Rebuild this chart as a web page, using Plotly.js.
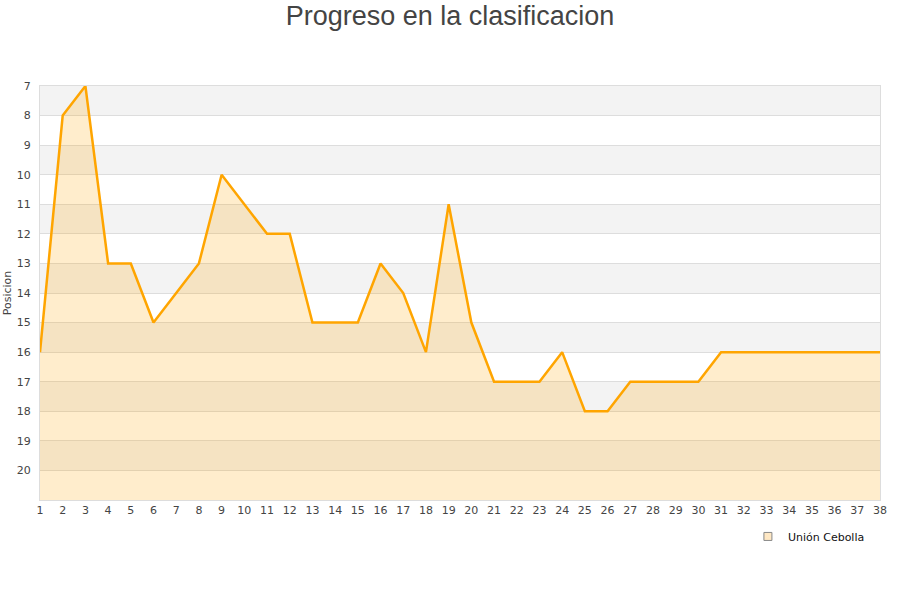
<!DOCTYPE html>
<html><head><meta charset="utf-8">
<script src="https://cdn.plot.ly/plotly-3.0.1.min.js"></script>
<style>html,body{margin:0;padding:0;background:#fff}</style>
</head><body><div id="chart" style="width:900px;height:600px"></div>
<script>
const jornadas = [1,2,3,4,5,6,7,8,9,10,11,12,13,14,15,16,17,18,19,20,21,22,23,24,25,26,27,28,29,30,31,32,33,34,35,36,37,38];
const posicion = [16,8,7,13,13,15,14,13,10,11,12,12,15,15,15,13,14,16,11,15,17,17,17,16,18,18,17,17,17,17,16,16,16,16,16,16,16,16];
const baseline = jornadas.map(() => 21);
const teamName = 'Unión Cebolla';
const yTicks = [7,8,9,10,11,12,13,14,15,16,17,18,19,20];
const greyBands = [[7,8],[9,10],[11,12],[13,14],[15,16],[17,18],[19,20]];

const shapes = greyBands.map(b => ({
  type:'rect', xref:'paper', yref:'y', x0:0, x1:1, y0:b[0], y1:b[1],
  fillcolor:'#f3f3f3', line:{width:0}, layer:'below'
}));

const traces = [
  {x: jornadas, y: baseline, mode:'lines', line:{width:0}, showlegend:false, hoverinfo:'skip'},
  {x: jornadas, y: posicion, mode:'lines', name: teamName, fill:'tonexty', showlegend:false,
   fillcolor:'rgba(255,165,0,0.2)', line:{color:'#ffa500', width:2.5}},
  {x:[null], y:[null], mode:'markers', name: teamName, showlegend:true,
   marker:{symbol:'square', size:8, color:'#ffe8c4', line:{color:'#888888', width:1}}}
];

const layout = {
  width:900, height:600,
  paper_bgcolor:'#fff', plot_bgcolor:'rgba(0,0,0,0)',
  margin:{l:40, r:20, t:86, b:100},
  title:{text:'Progreso en la clasificacion', x:0.5, xanchor:'center', y:0.99, yanchor:'top',
         font:{family:'Liberation Sans, Arial, sans-serif', size:27, color:'#444'}},
  font:{family:'DejaVu Sans, sans-serif', size:11, color:'#444'},
  xaxis:{range:[1,38], tickvals:jornadas, ticktext:jornadas.map(String), showgrid:false, zeroline:false,
         showline:true, linecolor:'#dddddd', mirror:true, ticks:'', tickfont:{size:11, color:'#444'}},
  yaxis:{range:[21,7], tickvals:yTicks, showgrid:true, gridcolor:'#dddddd', zeroline:false,
         showline:true, linecolor:'#dddddd', mirror:true, ticks:'', ticklabelstandoff:6,
         title:{text:'Posicion', font:{size:11, color:'#444'}, standoff:2}, tickfont:{size:11, color:'#444'}},
  shapes: shapes,
  showlegend:true,
  legend:{x:0.988, xanchor:'right', y:-0.053, yanchor:'top', bgcolor:'rgba(0,0,0,0)',
          font:{size:11, color:'#111'}, itemwidth:30}
};
Plotly.newPlot('chart', traces, layout, {displayModeBar:false, staticPlot:true});
</script></body></html>
